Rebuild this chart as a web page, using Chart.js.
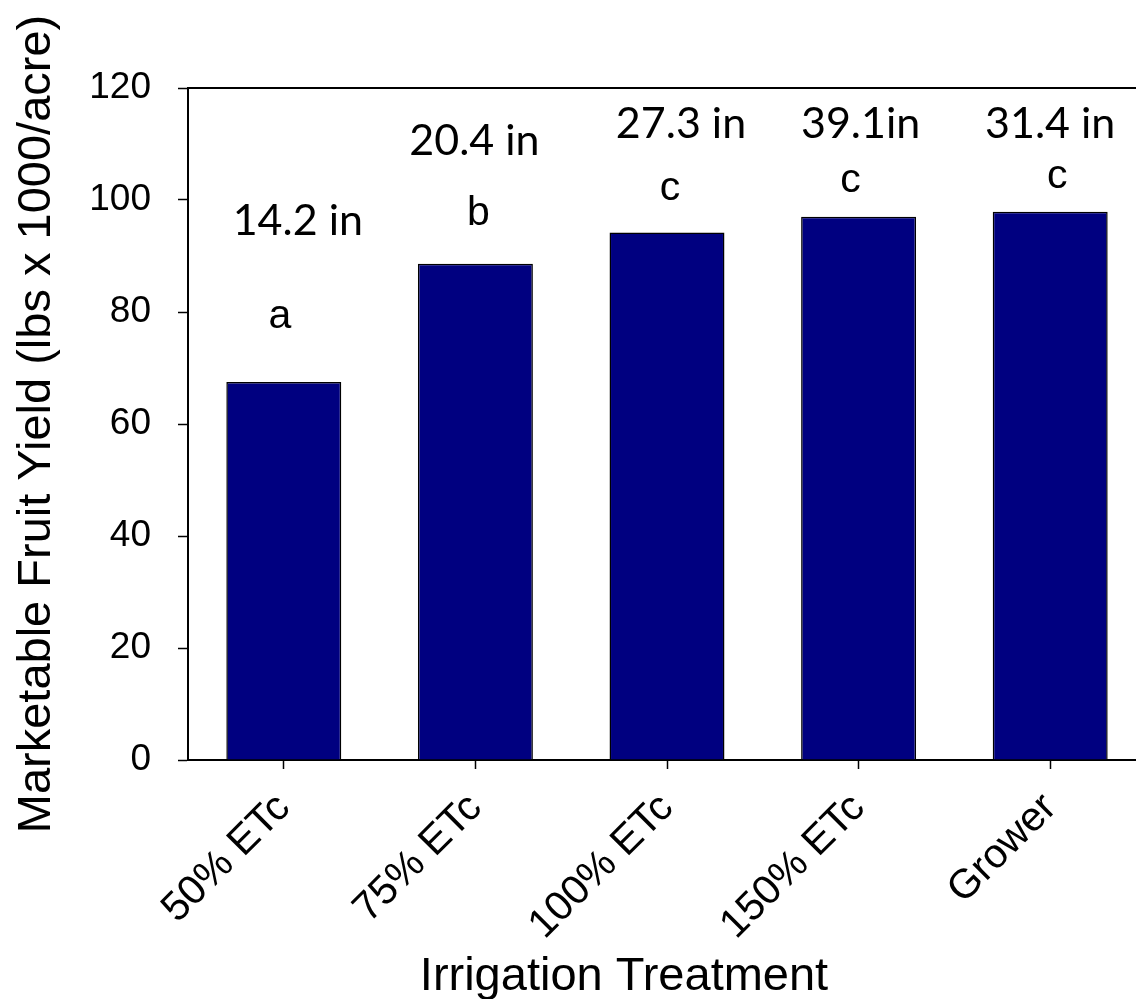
<!DOCTYPE html>
<html>
<head>
<meta charset="utf-8">
<script src="https://cdn.jsdelivr.net/npm/chart.js@4/dist/chart.umd.min.js"></script>
<style>
  html, body { margin: 0; padding: 0; background: #fff; overflow: hidden; }
  #wrap { width: 1136px; height: 999px; overflow: hidden; }
</style>
</head>
<body>
<div id="wrap"><canvas id="yield" width="1146" height="999"></canvas></div>
<script>
// data
const treatments = ['50% ETc', '75% ETc', '100% ETc', '150% ETc', 'Grower'];
const yieldValues = [67.5, 88.6, 94.2, 97.0, 97.9];
const waterApplied = ['14.2 in', '20.4 in', '27.3 in', '39.1in', '31.4 in'];
const groupLetters = ['a', 'b', 'c', 'c', 'c'];
const yMin = 0;
const yMax = 120;
const yStep = 20;

// where the hand placed labels sit (y in axis units, dx in px from bar centre)
const waterPos = [
    {dx: 14, y: 93.8},
    {dx: -1, y: 108.0},
    {dx: 14, y: 111.1},
    {dx: 2, y: 111.1},
    {dx: 0, y: 111.1}
];
const letterPos = [
    {dx: -4, y: 77.1},
    {dx: 3, y: 95.5},
    {dx: 3, y: 100.0},
    {dx: -8, y: 101.4},
    {dx: 7, y: 102.1}
];

const arial = 'Liberation Sans, Arial, sans-serif';

const annotate = {
    id: 'annotate',
    afterDatasetsDraw(chart) {
        const ctx = chart.ctx;
        const x = chart.scales.x;
        const y = chart.scales.y;
        const area = chart.chartArea;
        ctx.save();
        ctx.fillStyle = '#000';
        ctx.textAlign = 'center';
        ctx.textBaseline = 'alphabetic';
        waterApplied.forEach((txt, i) => {
            ctx.font = '43px Lato';
            ctx.fillText(txt, x.getPixelForValue(i) + waterPos[i].dx, y.getPixelForValue(waterPos[i].y));
            ctx.font = '41px ' + arial;
            ctx.fillText(groupLetters[i], x.getPixelForValue(i) + letterPos[i].dx, y.getPixelForValue(letterPos[i].y));
        });
        // frame line along the top
        ctx.strokeStyle = '#000';
        ctx.lineWidth = 2;
        ctx.beginPath();
        ctx.moveTo(area.left, area.top);
        ctx.lineTo(area.right, area.top);
        ctx.stroke();
        // axis title, sits left of the plot centre in the original
        ctx.font = '47px ' + arial;
        ctx.fillText('Irrigation Treatment', 624, 990);
        ctx.restore();
    }
};

const ctx = document.getElementById('yield').getContext('2d');
const myChart = new Chart(ctx, {
    type: 'bar',
    data: {
        labels: treatments,
        datasets: [{
            data: yieldValues,
            backgroundColor: '#000080',
            borderColor: '#000000',
            borderWidth: 1.5,
            barPercentage: 0.6,
            categoryPercentage: 1.0
        }]
    },
    options: {
        responsive: false,
        animation: false,
        layout: {
            padding: {top: 88, right: 0, left: 0, bottom: 0}
        },
        plugins: {
            legend: {display: false},
            tooltip: {enabled: false}
        },
        scales: {
            x: {
                afterFit: (scale) => { scale.height = 239; },
                grid: {
                    offset: false,
                    drawOnChartArea: false,
                    drawTicks: true,
                    tickLength: 9,
                    tickWidth: 1.5,
                    tickColor: '#000'
                },
                border: {color: '#000', width: 2},
                ticks: {
                    color: '#000',
                    minRotation: 45,
                    maxRotation: 45,
                    padding: 15,
                    font: {family: arial, size: 41}
                }
            },
            y: {
                min: yMin,
                max: yMax,
                afterFit: (scale) => { scale.width = 188; },
                grid: {
                    drawOnChartArea: false,
                    drawTicks: true,
                    tickLength: 10,
                    tickWidth: 1.5,
                    tickColor: '#000'
                },
                border: {color: '#000', width: 2},
                ticks: {
                    stepSize: yStep,
                    color: '#000',
                    padding: 27,
                    font: {family: arial, size: 37}
                },
                title: {
                    display: true,
                    text: 'Marketable Fruit Yield (lbs x 1000/acre)',
                    color: '#000',
                    padding: {top: 9, bottom: 0},
                    font: {family: arial, size: 47}
                }
            }
        }
    },
    plugins: [annotate]
});
</script>
</body>
</html>
